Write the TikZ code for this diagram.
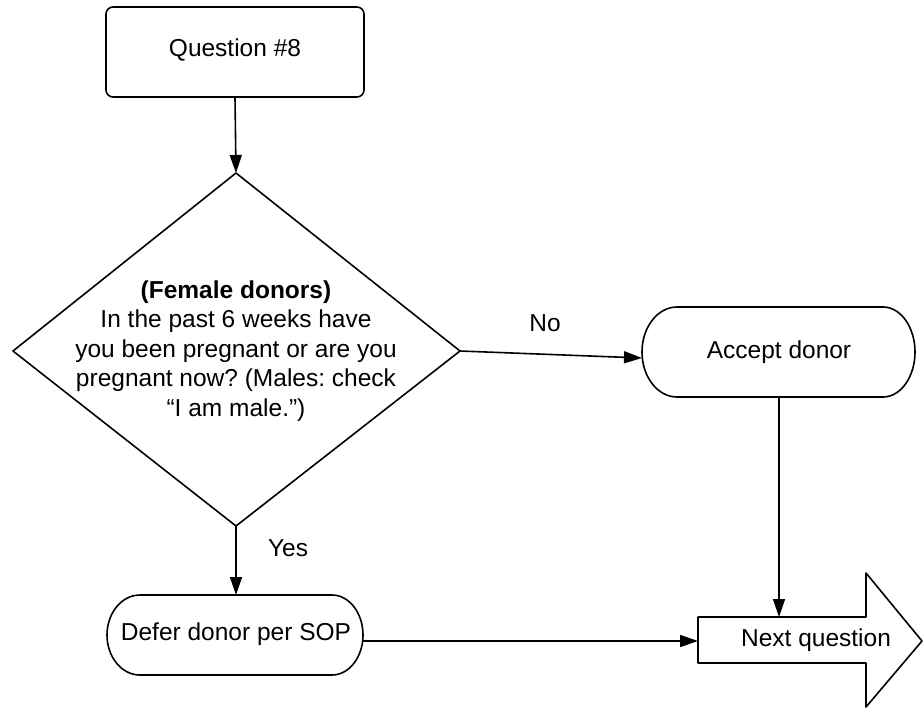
\documentclass[tikz,border=0pt]{standalone}
\usepackage{fontspec}
\setmainfont{Liberation Sans}
\usetikzlibrary{arrows.meta}
\begin{document}
\frenchspacing
\begin{tikzpicture}[x=1pt,y=-1pt,
  outline/.style={draw=black, line width=1.6pt, line join=round},
  label/.style={inner sep=0pt, align=center, font=\fontsize{24.5}{29.5}\selectfont},
  link/.style={draw=black, line width=1.6pt, -{Triangle[length=18pt,width=12pt]}}]
\useasboundingbox (0,0) rectangle (923,707);

% start box
\node[outline, rounded corners=7pt, minimum width=258pt, minimum height=90pt, inner sep=0pt] (q) at (235,52) {};
\node[label] (qtext) at (235,50) {Question \#8};

% decision diamond
\coordinate (dT) at (236,173);
\coordinate (dR) at (460,351);
\coordinate (dB) at (236,526);
\coordinate (dL) at (13,351);
\draw[outline] (dT) -- (dR) -- (dB) -- (dL) -- cycle;
\node[label] (dq) at (236,351) {\textbf{(Female donors)}\\In the past 6 weeks have\\you been pregnant or are you\\pregnant now? (Males: check\\“I am male.”)};

% accept terminator (y axis points down, so arcs run from -90 to 90 on the right)
\draw[outline] (677,307) -- (883,307) arc[start angle=-90, end angle=90, x radius=32, y radius=45]
  -- (677,397) arc[start angle=90, end angle=270, x radius=35, y radius=45] -- cycle;
\node[label] (acc) at (779,352) {Accept donor};
\coordinate (accL) at (642,358);
\coordinate (accB) at (779,397);

% defer terminator
\draw[outline] (140,595) -- (332,595) arc[start angle=-90, end angle=90, x radius=31, y radius=40]
  -- (140,675) arc[start angle=90, end angle=270, x radius=33, y radius=40] -- cycle;
\node[label] (def) at (236,634) {Defer donor per SOP};
\coordinate (defT) at (236,595);
\coordinate (defR) at (363,641);

% next-question block arrow
\draw[outline] (698,617) -- (866,617) -- (866,573) -- (922,641) -- (866,707) -- (866,663) -- (698,663) -- cycle;
\node[label] (nq) at (816,640) {Next question};
\coordinate (nqL) at (698,641);
\coordinate (nqT) at (779,617);

% branch labels
\node[label] (no) at (545,323) {No};
\node[label] (yes) at (288,548) {Yes};

% connectors
\path[link] (q.south) -- (dT);
\path[link] (dR) -- (accL);
\path[link] (dB) -- (defT);
\path[link] (accB) -- (nqT);
\path[link] (defR) -- (nqL);
\end{tikzpicture}
\end{document}
